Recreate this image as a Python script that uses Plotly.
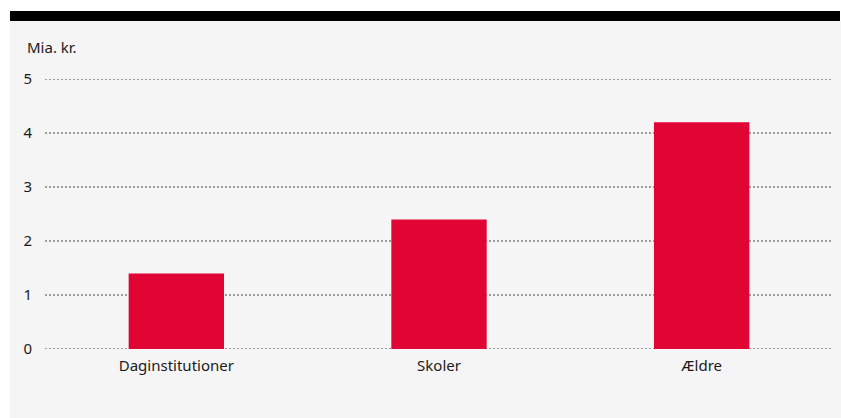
import plotly.graph_objects as go

categories = ["Daginstitutioner", "Skoler", "Ældre"]
values = [1.4, 2.4, 4.2]
y_ticks = [0, 1, 2, 3, 4, 5]
unit_label = "Mia. kr."

W, H = 841, 418
L, R = 45, 833       # plot area x in px
T, B = 79, 349       # plot area y in px (y=5 top, y=0 bottom)

def px_x(p):
    return (p - L) / (R - L)

def px_y(p):
    return (B - p) / (B - T)

fig = go.Figure()
fig.add_trace(go.Bar(
    x=categories, y=values,
    marker=dict(color="#e00534", line=dict(width=0)),
    hoverinfo="x+y",
))

font = "Noto Sans, Lato, sans-serif"
grid = dict(color="#444444", width=1.2, dash="2px,2px")

fig.update_layout(
    width=W, height=H,
    margin=dict(l=L, r=W - R, t=T, b=H - B, pad=0),
    paper_bgcolor="white",
    plot_bgcolor="rgba(0,0,0,0)",
    bargap=0.637,
    showlegend=False,
    font=dict(family=font, size=15, color="#1a1a1a"),
    xaxis=dict(
        showgrid=False, zeroline=False, showline=False,
        ticks="", tickfont=dict(size=15, color="#1a1a1a"),
        ticklabelstandoff=6,
        fixedrange=True,
    ),
    yaxis=dict(
        range=[0, 5], tickvals=y_ticks,
        showgrid=False, zeroline=False, showline=False, ticks="",
        ticklabelstandoff=12,
        tickfont=dict(size=15, color="#1a1a1a"),
        fixedrange=True,
    ),
    shapes=[
        dict(type="rect", xref="paper", yref="paper", layer="below",
             x0=px_x(10), x1=px_x(841), y0=px_y(418), y1=px_y(21),
             fillcolor="#f5f5f5", line=dict(width=0)),
        dict(type="rect", xref="paper", yref="paper", layer="below",
             x0=px_x(10), x1=px_x(840), y0=px_y(21), y1=px_y(11),
             fillcolor="#000000", line=dict(width=0)),
    ] + [
        dict(type="line", xref="paper", yref="y", layer="below",
             x0=0, x1=1, y0=v, y1=v, line=grid)
        for v in y_ticks
    ],
    annotations=[
        dict(text=unit_label, xref="paper", yref="paper",
             x=px_x(25), y=px_y(47), xanchor="left", yanchor="middle",
             showarrow=False, font=dict(size=15, color="#1a1a1a")),
    ],
)

fig.write_html(
    "out.html",
    config={"displayModeBar": False},
    post_script="document.body.style.margin='0';document.body.style.overflow='hidden';",
)
